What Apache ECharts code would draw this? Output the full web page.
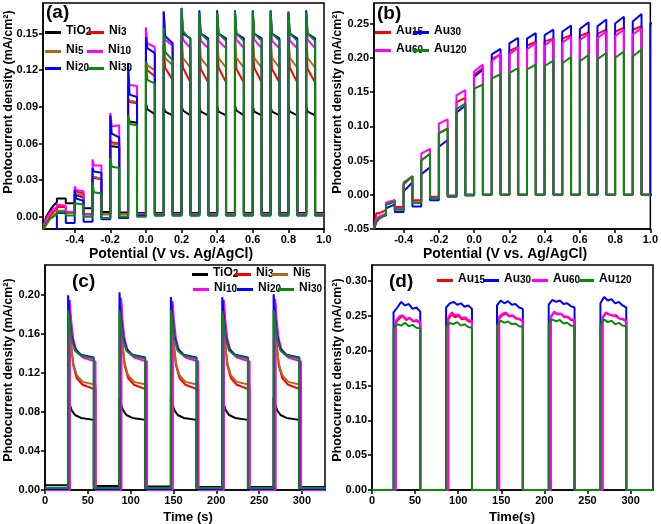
<!DOCTYPE html>
<html><head><meta charset="utf-8">
<script src="https://cdn.jsdelivr.net/npm/echarts@6/dist/echarts.min.js"></script>
<style>html,body{margin:0;padding:0;background:#fff}#c{width:661px;height:524px}</style>
</head><body><div id="c"></div>
<script>
// ---------------- DATA ----------------
// Panel (a): chopped LSV, Ni series. Each pulse: [spike peak, value after spike, value at end of light-on]
const aOn = [-0.5,-0.4,-0.3,-0.2,-0.1,0.0,0.1,0.2,0.3,0.4,0.5,0.6,0.7,0.8,0.9];
const aPreV = [-0.578,-0.56,-0.54,-0.52,-0.5];
const aTicks = [-0.4,-0.2,0.0,0.2,0.4,0.6,0.8,1.0];
const aYTicks = [0,0.03,0.06,0.09,0.12,0.15];

const aTiO2Pre = [-0.01,0.0,0.005,0.009,0.012];
const aTiO2Pulse = [[0.015,0.015,0.015],[0.018,0.017,0.016],[0.032,0.031,0.031],[0.058,0.058,0.057],[0.081,0.078,0.077],[0.093,0.088,0.084],[0.090,0.086,0.083],[0.091,0.087,0.083],[0.091,0.086,0.083],[0.090,0.086,0.083],[0.091,0.087,0.083],[0.091,0.086,0.083],[0.090,0.086,0.083],[0.090,0.086,0.083],[0.091,0.086,0.083]];
const aTiO2Dark = [0.011,0.007,0.004,0.0035,0.003,0.003,0.003,0.003,0.003,0.003,0.003,0.003,0.003,0.003,0.003];

const aNi3Pre = [-0.01,-0.006,0.0,0.004,0.006];
const aNi3Pulse = [[0.008,0.008,0.008],[0.021,0.020,0.019],[0.033,0.032,0.031],[0.063,0.061,0.060],[0.096,0.094,0.093],[0.125,0.120,0.115],[0.140,0.122,0.112],[0.145,0.122,0.110],[0.145,0.121,0.110],[0.145,0.122,0.110],[0.144,0.121,0.110],[0.145,0.122,0.110],[0.145,0.121,0.110],[0.145,0.122,0.110],[0.145,0.121,0.110]];
const aNi3Dark = [0.004,0.002,0.002,0.002,0.002,0.002,0.002,0.002,0.002,0.002,0.002,0.002,0.002,0.002,0.002];

const aNi5Pre = [-0.01,-0.007,-0.002,0.002,0.003];
const aNi5Pulse = [[0.005,0.005,0.005],[0.019,0.018,0.017],[0.033,0.032,0.031],[0.062,0.060,0.059],[0.097,0.095,0.094],[0.128,0.124,0.120],[0.145,0.130,0.124],[0.150,0.130,0.122],[0.150,0.130,0.122],[0.149,0.130,0.122],[0.150,0.130,0.122],[0.150,0.130,0.122],[0.149,0.130,0.122],[0.150,0.130,0.122],[0.150,0.130,0.122]];
const aNi5Dark = [0.003,0.002,0.002,0.002,0.002,0.002,0.002,0.002,0.002,0.002,0.002,0.002,0.002,0.002,0.002];

const aNi10Pre = [-0.008,-0.002,0.003,0.006,0.008];
const aNi10Pulse = [[0.010,0.010,0.009],[0.025,0.022,0.021],[0.047,0.042,0.042],[0.085,0.074,0.075],[0.108,0.107,0.107],[0.155,0.142,0.139],[0.168,0.145,0.140],[0.167,0.145,0.138],[0.166,0.144,0.138],[0.166,0.144,0.138],[0.167,0.145,0.138],[0.167,0.145,0.138],[0.166,0.144,0.138],[0.166,0.144,0.138],[0.167,0.145,0.138]];
const aNi10Dark = [0.004,0.002,-0.001,-0.001,0.002,0.002,0.002,0.002,0.002,0.002,0.002,0.002,0.002,0.002,0.002];

const aNi20Pre = [-0.02,-0.02,-0.02,-0.02,-0.015];
const aNi20Pulse = [[0.003,0.003,0.003],[0.022,0.015,0.013],[0.040,0.037,0.036],[0.083,0.068,0.065],[0.126,0.100,0.098],[0.147,0.138,0.134],[0.168,0.148,0.142],[0.171,0.150,0.146],[0.169,0.150,0.146],[0.169,0.150,0.146],[0.169,0.150,0.146],[0.169,0.150,0.146],[0.169,0.150,0.146],[0.168,0.150,0.146],[0.169,0.150,0.146]];
const aNi20Dark = [-0.005,-0.004,-0.002,-0.001,0.001,0.001,0.001,0.001,0.001,0.001,0.001,0.001,0.001,0.001,0.001];

const aNi30Pre = [-0.01,-0.005,-0.002,0.0,0.002];
const aNi30Pulse = [[0.003,0.004,0.004],[0.011,0.011,0.010],[0.028,0.020,0.019],[0.048,0.041,0.040],[0.083,0.076,0.075],[0.127,0.112,0.109],[0.155,0.135,0.128],[0.171,0.152,0.145],[0.167,0.150,0.144],[0.167,0.150,0.144],[0.168,0.150,0.144],[0.168,0.150,0.144],[0.168,0.150,0.144],[0.167,0.150,0.144],[0.167,0.150,0.144]];
const aNi30Dark = [0.001,0.0,-0.001,0.0,0.0,0.001,0.001,0.001,0.001,0.001,0.001,0.001,0.001,0.001,0.001];

// Panel (b): chopped LSV, Au series. Each pulse: [value at light-on, value at end of light-on]
const bOn = [-0.5,-0.4,-0.3,-0.2,-0.1,0.0,0.1,0.2,0.3,0.4,0.5,0.6,0.7,0.8,0.9,1.0];
const bPreV = [-0.568,-0.555,-0.54,-0.52,-0.5];
const bYTicks = [-0.05,0,0.05,0.10,0.15,0.20,0.25];

const bAu15Pre = [-0.05,-0.027,-0.027,-0.025,-0.022];
const bAu15Pulse = [[-0.012,-0.008],[0.015,0.027],[0.050,0.060],[0.090,0.097],[0.135,0.142],[0.175,0.185],[0.198,0.205],[0.210,0.216],[0.218,0.223],[0.224,0.228],[0.228,0.233],[0.232,0.237],[0.235,0.241],[0.238,0.244],[0.241,0.246]];
const bAu15Dark = [-0.018,-0.008,-0.003,-0.001,0,0,0,0,0,0,0,0,0,0,0];

const bAu30Pre = [-0.05,-0.04,-0.035,-0.032,-0.03];
const bAu30Pulse = [[-0.020,-0.014],[0.005,0.018],[0.030,0.040],[0.070,0.080],[0.120,0.130],[0.172,0.183],[0.205,0.213],[0.221,0.229],[0.228,0.236],[0.233,0.241],[0.238,0.247],[0.242,0.252],[0.246,0.256],[0.250,0.260],[0.253,0.264],[0.250,0.250]];
const bAu30Dark = [-0.025,-0.017,-0.008,-0.003,-0.001,0,0,0,0,0,0,0,0,0,0,0];

const bAu60Pre = [-0.05,-0.035,-0.032,-0.03,-0.027];
const bAu60Pulse = [[-0.012,-0.008],[0.018,0.027],[0.060,0.067],[0.104,0.110],[0.145,0.153],[0.180,0.190],[0.195,0.206],[0.205,0.215],[0.212,0.222],[0.218,0.227],[0.222,0.231],[0.226,0.235],[0.229,0.238],[0.232,0.241],[0.234,0.243]];
const bAu60Dark = [-0.020,-0.011,-0.004,-0.002,0,0,0,0,0,0,0,0,0,0,0];

const bAu120Pre = [-0.05,-0.04,-0.035,-0.032,-0.03];
const bAu120Pulse = [[-0.015,-0.010],[0.016,0.027],[0.050,0.060],[0.090,0.096],[0.125,0.133],[0.155,0.161],[0.170,0.176],[0.178,0.185],[0.183,0.190],[0.188,0.196],[0.192,0.201],[0.195,0.204],[0.198,0.207],[0.200,0.209],[0.202,0.212]];
const bAu120Dark = [-0.022,-0.012,-0.005,-0.002,0,0,0,0,0,0,0,0,0,0,0];

// Panel (c): transient photocurrent, Ni series
const cOnA = [27,87,147,207,267], cOffA = [57,117,177,237,297];     // TiO2, Ni20, Ni30
const cOnB = [29,89,149,209,269], cOffB = [59,119,179,239,299];     // Ni3, Ni5, Ni10
const cProfT = [0,1.5,4,8,15];                                     // s after light on
const cXTicks = [0,50,100,150,200,250,300];
const cYTicks = [0,0.04,0.08,0.12,0.16,0.20];
const cTiO2Peak = [0.095,0.094,0.095,0.094,0.095], cTiO2Prof = [0.089,0.082,0.077,0.074], cTiO2End = 0.072, cTiO2Dark = [0.005,0.004,0.0035,0.003,0.003,0.003];
const cNi3Peak  = [0.190,0.192,0.190,0.191,0.190], cNi3Prof  = [0.150,0.128,0.115,0.108], cNi3End  = 0.103, cNi3Dark  = [0.001,0.001,0.001,0.001,0.001,0.001];
const cNi5Peak  = [0.170,0.170,0.168,0.170,0.169], cNi5Prof  = [0.148,0.130,0.118,0.111], cNi5End  = 0.108, cNi5Dark  = [0.002,0.002,0.002,0.002,0.002,0.002];
const cNi10Peak = [0.195,0.197,0.194,0.195,0.196], cNi10Prof = [0.175,0.155,0.142,0.136], cNi10End = 0.132, cNi10Dark = [0.0,0.0,0.0,0.0,0.0,0.0];
const cNi20Peak = [0.200,0.203,0.198,0.198,0.201], cNi20Prof = [0.180,0.158,0.145,0.139], cNi20End = 0.136, cNi20Dark = [0.001,0.001,0.001,0.001,0.001,0.001];
const cNi30Peak = [0.185,0.184,0.185,0.184,0.185], cNi30Prof = [0.175,0.155,0.143,0.138], cNi30End = 0.135, cNi30Dark = [0.002,0.002,0.002,0.002,0.002,0.002];

// Panel (d): transient photocurrent, Au series (values across each light-on period)
const dOnA = [25,86,145,205,265];        // Au30, Au120
const dOnB = [27.5,88.5,147.5,207.5,267.5]; // Au15, Au60
const dOff = [56,116,175,235,295];
const dXTicks = [0,50,100,150,200,250,300];
const dYTicks = [0,0.05,0.10,0.15,0.20,0.25,0.30];
const dAu15 = [[0.240,0.246,0.250,0.244,0.247,0.242,0.243,0.239],[0.245,0.252,0.248,0.250,0.245,0.246,0.242,0.241],[0.246,0.251,0.253,0.249,0.250,0.246,0.245,0.242],[0.248,0.255,0.252,0.253,0.248,0.248,0.244,0.243],[0.247,0.254,0.252,0.250,0.251,0.246,0.245,0.242]];
const dAu30 = [[0.255,0.262,0.270,0.265,0.267,0.260,0.262,0.256],[0.262,0.268,0.270,0.266,0.268,0.263,0.265,0.260],[0.265,0.272,0.268,0.271,0.266,0.267,0.262,0.260],[0.266,0.273,0.270,0.272,0.267,0.268,0.264,0.262],[0.268,0.277,0.272,0.274,0.268,0.270,0.265,0.262]];
const dAu60 = [[0.243,0.249,0.251,0.246,0.247,0.243,0.244,0.241],[0.248,0.255,0.251,0.252,0.247,0.248,0.244,0.243],[0.249,0.253,0.255,0.250,0.251,0.247,0.246,0.243],[0.249,0.256,0.253,0.253,0.249,0.249,0.245,0.244],[0.248,0.255,0.252,0.251,0.249,0.246,0.246,0.243]];
const dAu120 = [[0.232,0.238,0.236,0.240,0.235,0.237,0.233,0.232],[0.234,0.240,0.238,0.241,0.236,0.238,0.234,0.233],[0.236,0.243,0.240,0.242,0.238,0.239,0.235,0.234],[0.238,0.245,0.242,0.244,0.239,0.240,0.236,0.235],[0.237,0.245,0.241,0.243,0.238,0.240,0.236,0.235]];

// Axis titles
const yTitle = 'Photocurrent density (mA/cm²)';
const xTitleAB = 'Potential (V vs. Ag/AgCl)';
const xTitleC = 'Time (s)';
const xTitleD = 'Time(s)';

// ---------------- BUILD ----------------
const FONT = '"Liberation Sans", Arial, sans-serif';
const COL = {TiO2:'#000000', Ni3:'#ff0000', Ni5:'#b5651d', Ni10:'#ff00ff', Ni20:'#0000ff', Ni30:'#0a8a0a',
             Au15:'#ff0000', Au30:'#0000ff', Au60:'#ff00ff', Au120:'#0a8a0a'};
const A_XMIN=-0.578, A_XMAX=1.0, B_XMIN=-0.568, B_XMAX=1.0, ON_W=0.05, KNEE=0.008;
const C_XMAX=327, D_XMAX=326;

function buildA(pre, pulse, dark){
  const pts = aPreV.map((v,i)=>[v, pre[i]]);
  pulse.forEach((p,k)=>{
    const on=aOn[k], off=on+ON_W, next = k+1<pulse.length ? aOn[k+1] : A_XMAX;
    pts.push([on,p[0]],[on+KNEE,p[1]],[off,p[2]],[off,dark[k]],[next,dark[k]]);
  });
  return pts;
}
function buildB(pre, pulse, dark){
  const pts = bPreV.map((v,i)=>[v, pre[i]]);
  pulse.forEach((p,k)=>{
    const on=bOn[k], off=on+ON_W, next = k+1<pulse.length ? bOn[k+1] : B_XMAX;
    pts.push([on,p[0]],[off,p[1]],[off,dark[k]],[next,dark[k]]);
  });
  return pts;
}
function buildC(on, off, peak, prof, end, dark){
  const pts = [[0,dark[0]]];
  on.forEach((t,k)=>{
    pts.push([t,dark[k]],[t,peak[k]]);
    for(let i=1;i<cProfT.length;i++) pts.push([t+cProfT[i], prof[i-1]]);
    pts.push([off[k],end],[off[k],dark[k+1]]);
  });
  pts.push([C_XMAX,dark[dark.length-1]]);
  return pts;
}
function buildD(on, vals){
  const pts=[[0,0]];
  on.forEach((t,k)=>{
    const v=vals[k], n=v.length, step=(dOff[k]-t)/(n-1);
    pts.push([t,0]);
    v.forEach((y,i)=>pts.push([t+i*step,y]));
    pts.push([dOff[k],0]);
  });
  pts.push([D_XMAX,0]);
  return pts;
}
function line(name, idx, data, w){
  return {type:'line', name, xAxisIndex:idx, yAxisIndex:idx, data, symbol:'none', showSymbol:false,
    lineStyle:{color:COL[name], width:w}, itemStyle:{color:COL[name]}, animation:false, silent:true, clip:true};
}
const series = [
  line('TiO2',0,buildA(aTiO2Pre,aTiO2Pulse,aTiO2Dark),2),
  line('Ni3',0,buildA(aNi3Pre,aNi3Pulse,aNi3Dark),2),
  line('Ni5',0,buildA(aNi5Pre,aNi5Pulse,aNi5Dark),2),
  line('Ni10',0,buildA(aNi10Pre,aNi10Pulse,aNi10Dark),2),
  line('Ni20',0,buildA(aNi20Pre,aNi20Pulse,aNi20Dark),2),
  line('Ni30',0,buildA(aNi30Pre,aNi30Pulse,aNi30Dark),2),
  line('Au15',1,buildB(bAu15Pre,bAu15Pulse,bAu15Dark),2),
  line('Au30',1,buildB(bAu30Pre,bAu30Pulse,bAu30Dark),2),
  line('Au60',1,buildB(bAu60Pre,bAu60Pulse,bAu60Dark),2),
  line('Au120',1,buildB(bAu120Pre,bAu120Pulse,bAu120Dark),2),
  line('TiO2',2,buildC(cOnA,cOffA,cTiO2Peak,cTiO2Prof,cTiO2End,cTiO2Dark),2),
  line('Ni3',2,buildC(cOnB,cOffB,cNi3Peak,cNi3Prof,cNi3End,cNi3Dark),2),
  line('Ni5',2,buildC(cOnB,cOffB,cNi5Peak,cNi5Prof,cNi5End,cNi5Dark),2),
  line('Ni10',2,buildC(cOnB,cOffB,cNi10Peak,cNi10Prof,cNi10End,cNi10Dark),2),
  line('Ni20',2,buildC(cOnA,cOffA,cNi20Peak,cNi20Prof,cNi20End,cNi20Dark),2),
  line('Ni30',2,buildC(cOnA,cOffA,cNi30Peak,cNi30Prof,cNi30End,cNi30Dark),2),
  line('Au15',3,buildD(dOnB,dAu15),2),
  line('Au30',3,buildD(dOnA,dAu30),2),
  line('Au60',3,buildD(dOnB,dAu60),2),
  line('Au120',3,buildD(dOnA,dAu120),2)
];

const lab = {fontSize:11, fontWeight:'bold', color:'#000', fontFamily:FONT, margin:5};
function ax(idx,min,max,ticks,dec){
  return {type:'value', gridIndex:idx, min, max,
    axisLine:{onZero:false, lineStyle:{color:'#000',width:1.5}},
    axisTick:{customValues:ticks, length:4, lineStyle:{color:'#000',width:1.5}},
    axisLabel:Object.assign({customValues:ticks, formatter:v=>Number(v).toFixed(dec)},lab),
    splitLine:{show:false}};
}
const gridBase = {show:true, borderColor:'#000', borderWidth:1.5, containLabel:false};
const legendRich = {n:{fontSize:12, fontWeight:'bold', color:'#000', fontFamily:FONT, padding:[0,0,3,0]},
                    s:{fontSize:10, fontWeight:'bold', color:'#000', fontFamily:FONT}};
function leg(name,x,y){
  return {data:[name], left:x, top:y-8, padding:0, itemGap:0, itemWidth:16, itemHeight:3, icon:'rect',
    selectedMode:false, textStyle:{rich:legendRich},
    formatter:nm=>{const m=nm.match(/^(.*?)(\d+)$/); return '{n|'+m[1]+'}{s|'+m[2]+'}';}};
}
const legends = [
  leg('TiO2',45,33), leg('Ni3',88,33), leg('Ni5',45,52), leg('Ni10',87,52), leg('Ni20',45,69), leg('Ni30',88,69),
  leg('Au15',375,33), leg('Au30',413,33), leg('Au60',375,51), leg('Au120',413,51),
  leg('TiO2',192,275), leg('Ni3',235,275), leg('Ni5',272,275), leg('Ni10',193,290), leg('Ni20',237,290), leg('Ni30',278,290),
  leg('Au15',437,281), leg('Au30',483,281), leg('Au60',532,281), leg('Au120',578,281)
];
function axTitle(text,x,y,rot,fs){
  return {type:'text', x, y, rotation:rot, silent:true,
    style:{text, fill:'#000', fontSize:fs, fontWeight:'bold', fontFamily:FONT, align:'center', verticalAlign:'middle'}};
}
const titleStyle = {fontSize:19, fontWeight:'bold', color:'#000', fontFamily:FONT};
const option = {
  backgroundColor:'#fff', animation:false,
  title:[{text:'(a)',left:46,top:3,padding:0,textStyle:titleStyle},{text:'(b)',left:377,top:4,padding:0,textStyle:titleStyle},
         {text:'(c)',left:72,top:272,padding:0,textStyle:titleStyle},{text:'(d)',left:389,top:272,padding:0,textStyle:titleStyle}],
  legend: legends,
  graphic:[
    axTitle(xTitleAB,171,254,0,14), axTitle(xTitleAB,505,254,0,14),
    axTitle(xTitleC,188,517,0,13), axTitle(xTitleD,512,517,0,13),
    axTitle(yTitle,9,102,Math.PI/2,12.5), axTitle(yTitle,338,102,Math.PI/2,12.5),
    axTitle(yTitle,9,370,Math.PI/2,12.5), axTitle(yTitle,338,370,Math.PI/2,12.5)
  ],
  grid:[Object.assign({left:43,top:3,width:281,height:226},gridBase),
        Object.assign({left:374,top:3,width:279,height:226},gridBase),
        Object.assign({left:45,top:265,width:280,height:225},gridBase),
        Object.assign({left:372,top:265,width:281,height:225},gridBase)],
  xAxis:[ax(0,A_XMIN,A_XMAX,aTicks,1), ax(1,B_XMIN,B_XMAX,aTicks,1), ax(2,0,C_XMAX,cXTicks,0), ax(3,0,D_XMAX,dXTicks,0)],
  yAxis:[ax(0,-0.01,0.175,aYTicks,2), ax(1,-0.05,0.28,bYTicks,2), ax(2,0,0.231,cYTicks,2), ax(3,0,0.323,dYTicks,2)],
  series
};
const chart = echarts.init(document.getElementById('c'));
chart.setOption(option);
</script></body></html>
